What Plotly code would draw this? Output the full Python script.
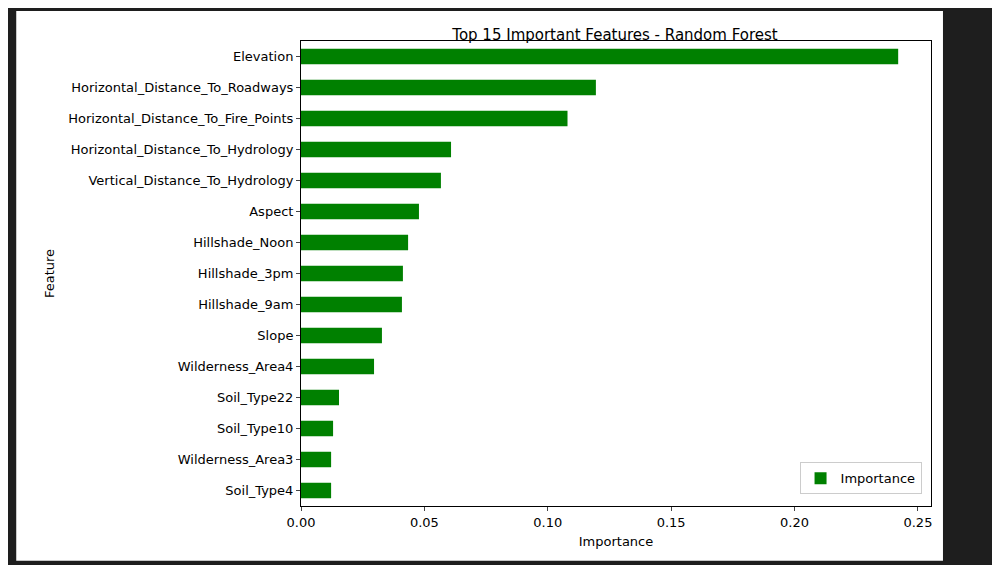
import plotly.graph_objects as go

features = ["Elevation","Horizontal_Distance_To_Roadways","Horizontal_Distance_To_Fire_Points",
            "Horizontal_Distance_To_Hydrology","Vertical_Distance_To_Hydrology","Aspect",
            "Hillshade_Noon","Hillshade_3pm","Hillshade_9am","Slope","Wilderness_Area4",
            "Soil_Type22","Soil_Type10","Wilderness_Area3","Soil_Type4"]
importance = [0.242,0.1195,0.108,0.0608,0.0567,0.0478,0.0434,0.0413,0.0409,0.0328,0.0296,
              0.0154,0.0130,0.0122,0.0122]
xticks = [0.0,0.05,0.10,0.15,0.20,0.25]
xticklabels = ["0.00","0.05","0.10","0.15","0.20","0.25"]

fig = go.Figure(go.Bar(x=importance[::-1], y=features[::-1], orientation="h",
                       marker_color="green", marker_line_width=0, width=0.5, name="Importance",
                       showlegend=True))
font = dict(family="DejaVu Sans", size=13, color="black")
fig.update_layout(
    width=1000, height=565, margin=dict(l=293, r=77, t=33, b=67),
    paper_bgcolor="#1e1e1e", plot_bgcolor="white", font=font,
    title=dict(text="Top 15 Important Features - Random Forest", x=0.607, xanchor="center",
               y=0.952, yanchor="middle", font=dict(size=15, color="black", family="DejaVu Sans")),
    xaxis=dict(range=[0, 0.2553], tickvals=xticks, ticktext=xticklabels, ticks="outside",
               ticklen=4, showgrid=False, zeroline=False, showline=True, linecolor="black",
               mirror=True, title=dict(text="Importance", standoff=8, font=dict(size=13))),
    yaxis=dict(range=[-0.5, 14.5], ticks="outside", ticklen=4, showgrid=False, showline=True,
               linecolor="black", mirror=True, title=dict(text="Feature", standoff=10, font=dict(size=13))),
    legend=dict(x=0.985, y=0.025, xanchor="right", yanchor="bottom", bgcolor="white",
                bordercolor="#cccccc", borderwidth=1, font=font),
    shapes=[dict(type="rect", xref="paper", yref="paper", x0=-0.452, x1=1.019, y0=-0.118, y1=1.0645,
                 fillcolor="white", line_width=0, layer="below")],
)
fig.write_html("out.html")
